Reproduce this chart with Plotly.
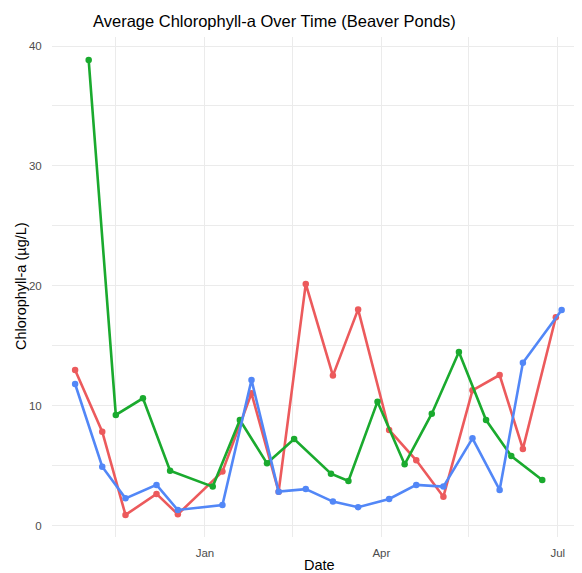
import plotly.graph_objects as go

# ---- data ----
red_dates = ["2023-10-26", "2023-11-09", "2023-11-21", "2023-12-07", "2023-12-18",
             "2024-01-10", "2024-01-25", "2024-02-08", "2024-02-22", "2024-03-07",
             "2024-03-20", "2024-04-05", "2024-04-19", "2024-05-03", "2024-05-18",
             "2024-06-01", "2024-06-13", "2024-06-30"]
red_values = [13.0, 7.85, 0.92, 2.67, 0.97, 4.53, 11.05, 2.86, 20.17, 12.53,
              18.05, 8.0, 5.47, 2.44, 11.3, 12.58, 6.42, 17.39]

green_dates = ["2023-11-02", "2023-11-16", "2023-11-30", "2023-12-14", "2024-01-05",
               "2024-01-19", "2024-02-02", "2024-02-16", "2024-03-06", "2024-03-15",
               "2024-03-30", "2024-04-13", "2024-04-27", "2024-05-11", "2024-05-25",
               "2024-06-07", "2024-06-23"]
green_values = [38.83, 9.25, 10.64, 4.61, 3.28, 8.83, 5.22, 7.25, 4.36, 3.75,
                10.36, 5.14, 9.36, 14.5, 8.83, 5.83, 3.83]

blue_dates = ["2023-10-26", "2023-11-09", "2023-11-21", "2023-12-07", "2023-12-18",
              "2024-01-10", "2024-01-25", "2024-02-08", "2024-02-22", "2024-03-07",
              "2024-03-20", "2024-04-05", "2024-04-19", "2024-05-03", "2024-05-18",
              "2024-06-01", "2024-06-13", "2024-07-03"]
blue_values = [11.83, 4.94, 2.3, 3.42, 1.33, 1.75, 12.17, 2.86, 3.07, 2.03,
               1.56, 2.25, 3.42, 3.28, 7.3, 3.0, 13.6, 18.0]

x_tick_vals = ["2024-01-01", "2024-04-01", "2024-07-01"]
x_tick_text = ["Jan", "Apr", "Jul"]
x_minor_vals = ["2023-11-16", "2024-02-15", "2024-05-16"]
y_tick_vals = [0, 10, 20, 30, 40]
y_minor_vals = [5, 15, 25, 35]

series = [
    ("Pond 1", red_dates, red_values, "#EC5A5C"),
    ("Pond 2", green_dates, green_values, "#1AAA2E"),
    ("Pond 3", blue_dates, blue_values, "#5287F7"),
]

fig = go.Figure()
for name, d, v, c in series:
    fig.add_trace(go.Scatter(
        x=d, y=v, mode="lines+markers", name=name,
        line=dict(color=c, width=2.6),
        marker=dict(color=c, size=6.5),
        showlegend=False,
    ))

grid = "#EBEBEB"
# page body has an 8px default margin: figure is 574x565 drawn from (8, 8)
fig.update_layout(
    width=574, height=565,
    margin=dict(l=44, r=0, t=29, b=36),
    paper_bgcolor="white", plot_bgcolor="white",
    font=dict(family="Liberation Sans, Arial, sans-serif", color="#4D4D4D"),
    xaxis=dict(
        type="date",
        range=["2023-10-14 02:00", "2024-07-13 12:00"],
        tickmode="array", tickvals=x_tick_vals, ticktext=x_tick_text,
        showgrid=True, gridcolor=grid, gridwidth=1.1,
        ticks="outside", ticklen=5, tickcolor="rgba(0,0,0,0)",
        tickfont=dict(size=11.5, color="#4D4D4D"),
        minor=dict(tickmode="array", tickvals=x_minor_vals, showgrid=True,
                   gridcolor=grid, gridwidth=0.6, ticks=""),
        zeroline=False, showline=False,
    ),
    yaxis=dict(
        range=[-0.92, 40.75],
        tickmode="array", tickvals=y_tick_vals,
        showgrid=True, gridcolor=grid, gridwidth=1.1,
        ticks="outside", ticklen=7, tickcolor="rgba(0,0,0,0)",
        tickfont=dict(size=11.5, color="#4D4D4D"),
        minor=dict(tickmode="array", tickvals=y_minor_vals, showgrid=True,
                   gridcolor=grid, gridwidth=0.6, ticks=""),
        zeroline=False, showline=False,
    ),
    annotations=[
        dict(text="Average Chlorophyll-a Over Time (Beaver Ponds)",
             xref="paper", yref="paper", x=(274.5 - 52) / 530, y=(537 - 20.5) / 500,
             xanchor="center", yanchor="middle", showarrow=False,
             font=dict(size=16.5, color="black")),
        dict(text="Date", xref="paper", yref="paper",
             x=(319 - 52) / 530, y=(537 - 565) / 500,
             xanchor="center", yanchor="middle", showarrow=False,
             font=dict(size=14.5, color="black")),
        dict(text="Chlorophyll-a (µg/L)", xref="paper", yref="paper",
             x=(21 - 52) / 530, y=(537 - 286) / 500, textangle=-90,
             xanchor="center", yanchor="middle", showarrow=False,
             font=dict(size=14.5, color="black")),
    ],
)

fig.write_html("out.html")
